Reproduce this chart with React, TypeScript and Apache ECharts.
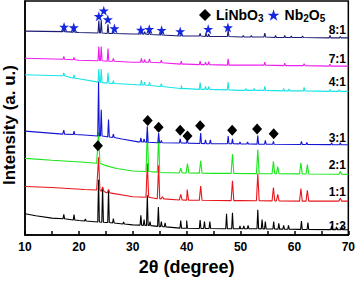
import React, { useEffect, useRef } from "react";
import * as echarts from "echarts";

const FONT = "'Liberation Sans', Arial, sans-serif";

// x axis range and ticks (2θ in degrees)
const xMin = 10;
const xMax = 70;
const xTickStep = 5;

// sample ratio labels, bottom to top
const ratioLabels = ["1:3", "1:1", "2:1", "3:1", "4:1", "7:1", "8:1"];
const traceColors = ["#000000", "#e8161b", "#1be61b", "#1414d4", "#19e4e4", "#ee1eee", "#1c1c72"];

// baselines [2θ, intensity] and peaks [2θ, base, top] (intensity in a.u., offset per trace)
const base13 = [[10, 22], [12, 20], [15, 17.5], [20, 15], [25, 13], [30, 10.5], [35, 8.5], [40, 7], [50, 6.5], [70, 5.5]];
const peaks13 = [
  [17.2, 16.8, 21.3], [19.1, 15.5, 21], [21.2, 14.5, 16.5], [23.65, 13.5, 57], [24.4, 13.3, 48.7],
  [25.5, 13, 46], [26.4, 12.5, 17], [28.3, 11.5, 13.5], [31.5, 10.3, 20.3], [32.1, 10, 16],
  [32.7, 10, 41], [33.2, 9.8, 14], [34.75, 9, 29], [35.3, 8.8, 14], [36.0, 8.5, 12.5],
  [38.9, 7.2, 15], [40.0, 7, 15], [42.5, 6.8, 15.5], [43.3, 6.8, 14], [44.3, 6.8, 14],
  [47.4, 6.6, 22], [48.5, 6.6, 23], [49.9, 6.5, 9.5], [50.6, 6.5, 9.5], [51.4, 6.5, 10],
  [53.2, 6.5, 26], [54.0, 6.4, 16], [54.6, 6.4, 14], [56.15, 6.3, 14], [57.1, 6.2, 12],
  [58.0, 6.1, 10], [58.9, 6, 10], [61.3, 5.9, 14.5], [62.5, 5.8, 13], [66.9, 5.6, 9.5],
  [67.8, 5.6, 8.5], [68.8, 5.5, 9.5],
];

const base11 = [[10, 50], [15, 49], [21, 47], [23.3, 46.5], [25, 44], [30, 39.5], [35, 37.5], [40, 36], [50, 35.5], [70, 35]];
const peaks11 = [
  [23.65, 46.5, 80], [24.4, 45, 49.5], [25.5, 43.5, 47], [32.7, 39, 74], [34.8, 37.5, 72],
  [35.5, 37.3, 39.5], [38.9, 36.2, 42], [40.1, 36, 47], [42.6, 35.8, 50.5], [48.5, 35.5, 56],
  [53.2, 35.3, 63.5], [56.1, 35.2, 49], [56.9, 35.1, 42], [61.2, 35, 48], [62.4, 35, 46],
  [68.5, 35, 38],
];

const base21 = [[10, 79], [15, 77], [21, 75], [23.3, 74], [25, 71.5], [27, 68.5], [30, 66], [35, 64.5], [45, 63.5], [70, 62.5]];
const peaks21 = [
  [23.65, 74, 106], [32.7, 65.5, 106], [34.8, 64.8, 102], [38.9, 64, 69], [40.15, 64, 73.5],
  [42.6, 63.8, 76.5], [48.5, 63.5, 83.5], [53.2, 63.3, 88], [56.1, 63.2, 76], [56.9, 63.1, 70.5],
  [61.2, 63, 74.5], [62.4, 62.9, 72.5], [68.5, 62.6, 65.5],
];

const base31 = [[10, 107], [17, 104], [21, 103], [25, 101.5], [28, 99], [31, 96], [35, 95], [45, 94], [70, 93]];
const peaks31 = [
  [17.2, 104, 108], [19.1, 103.5, 107], [23.65, 102, 158], [24.15, 102, 129], [25.5, 101, 119],
  [26.4, 100.5, 104], [31.5, 96, 100], [32.1, 95.8, 99], [32.7, 95.6, 112], [34.8, 95, 105],
  [35.3, 95, 97.5], [38.8, 94.8, 99], [40.1, 94.7, 98], [42.6, 94.3, 105], [43.5, 94.2, 98],
  [44.4, 94.1, 98], [47.7, 94, 102], [48.5, 94, 99], [49.9, 93.9, 96], [51.3, 93.8, 96],
  [53.2, 93.7, 102.5], [54.6, 93.6, 97.5], [56.1, 93.5, 96.5], [61.3, 93.3, 96.5], [62.3, 93.3, 95.5],
  [66.9, 93.1, 95], [68.5, 93, 95],
];

const base41 = [[10, 165], [16.5, 164], [20, 161], [24, 157], [30, 155], [39, 150.5], [50, 149], [60, 148.5], [70, 148]];
const peaks41 = [
  [17.2, 164, 167], [19.1, 161.5, 165], [23.7, 157.5, 171], [24.15, 157, 171], [25.4, 156.5, 167],
  [26.4, 156, 159], [31.6, 154.5, 159.5], [32.2, 154.5, 157.5], [33.1, 154, 157.5], [35.3, 153, 156],
  [39.0, 151, 154], [42.5, 150, 157], [43.5, 150, 153], [44.1, 150, 153], [47.7, 149.5, 157.5],
  [51.0, 149, 151], [52.5, 149, 151], [54.5, 149, 153], [58.0, 148.5, 151], [59.0, 148.5, 150.5],
  [61.8, 148.5, 152], [66.6, 148, 150], [68.3, 148, 149.5],
];

const base71 = [[10, 182], [20, 180], [30, 178], [40, 176], [50, 175], [60, 174.5], [70, 174]];
const peaks71 = [
  [17.2, 181, 184], [19.1, 180.5, 183], [23.7, 179.5, 194], [24.15, 179.5, 194], [25.4, 179, 192],
  [26.4, 179, 182], [31.6, 178, 182], [32.2, 178, 181], [33.1, 178, 181.5], [35.3, 177.5, 180],
  [39.0, 176, 179], [42.5, 175.5, 179], [43.5, 175.5, 178], [44.1, 175.5, 178.5], [47.7, 175, 181.5],
  [54.5, 175, 178], [58.2, 174.5, 177], [61.8, 174.5, 176.5], [66.6, 174, 176],
];

const base81 = [[10, 210], [20, 208.5], [30, 207], [40, 205], [50, 204], [60, 203.5], [70, 203]];
const peaks81 = [
  [17.2, 209.5, 213], [19.1, 209, 212], [23.7, 208, 221], [24.15, 208, 221], [25.4, 207.5, 217],
  [26.4, 207.5, 211], [31.6, 207, 210], [32.2, 207, 209.5], [33.1, 206.5, 210.5], [35.3, 206, 209.5],
  [39.0, 205, 208], [42.5, 205, 207.5], [43.6, 204.5, 208], [44.1, 204.5, 207], [47.7, 204.5, 211],
  [50.5, 204, 205.5], [52.0, 204, 205.5], [54.5, 204, 208], [56.5, 203.5, 205.5], [58.2, 203.5, 205.5],
  [59.4, 203.5, 205], [61.5, 203.5, 205], [66.6, 203, 205.5], [68.5, 203, 204.5],
];

// phase markers [2θ, intensity]
const liNbO3Marks = [[23.53, 92], [32.77, 118], [34.8, 111], [38.8, 108], [40.15, 102], [42.5, 112.7], [48.45, 108], [53.07, 109.3], [56.15, 104.3]];
const nb2O5Marks = [[17.25, 214.3], [19.05, 213.7], [23.7, 225.3], [24.62, 231], [25.37, 222], [26.6, 212.7], [31.5, 211.3], [33.07, 212], [35.35, 211], [38.8, 209.7], [44.0, 212], [47.66, 213.7]];

const traces = [
  { base: base13, peaks: peaks13, hw: 0.15 },
  { base: base11, peaks: peaks11, hw: 0.25 },
  { base: base21, peaks: peaks21, hw: 0.25 },
  { base: base31, peaks: peaks31, hw: 0.15 },
  { base: base41, peaks: peaks41, hw: 0.15 },
  { base: base71, peaks: peaks71, hw: 0.15 },
  { base: base81, peaks: peaks81, hw: 0.15 },
];
// label vertical positions (px) for ratio texts
const labelY = [226, 192, 165, 138, 82, 59, 30];

const STAR = "path://M50,0 L61.8,35.1 L98.9,35.1 L68.8,56.7 L80.3,91.9 L50,70.2 L19.7,91.9 L31.2,56.7 L1.1,35.1 L38.2,35.1 Z";

function buildLine(base: number[][], peaks: number[][], hw: number) {
  const pts: number[][] = base.map((p) => [p[0], p[1]]);
  peaks.forEach(([x, b, t]) => {
    pts.push([x - hw, b], [x, t], [x + hw, b]);
  });
  pts.sort((a, b) => a[0] - b[0]);
  return pts;
}

export default function App() {
  const ref = useRef<HTMLDivElement>(null);
  useEffect(() => {
    if (!ref.current) return;
    const chart = echarts.init(ref.current, null, { renderer: "svg" });
    const lineSeries = traces.map((t, i) => ({
      type: "line",
      name: ratioLabels[i],
      data: buildLine(t.base, t.peaks, t.hw),
      showSymbol: false,
      symbol: "none",
      lineStyle: { color: traceColors[i], width: 1.1 },
      z: 2 + i,
      silent: true,
    }));
    chart.setOption({
      animation: false,
      backgroundColor: "#fff",
      grid: { left: 25, right: 7, top: 1, bottom: 39, show: true, borderColor: "#000", borderWidth: 1.5, backgroundColor: "transparent" },
      legend: {
        data: ["LiNbO3", "Nb2O5"],
        left: 194,
        top: 3,
        itemWidth: 12,
        itemHeight: 12,
        itemGap: 4,
        itemTextGap: 8,
        selectedMode: false,
        formatter: (n: string) => (n === "LiNbO3" ? "LiNbO{s|3}" : "Nb{s|2}O{s|5}"),
        textStyle: {
          fontSize: 14,
          fontWeight: "bold",
          color: "#000",
          fontFamily: FONT,
          rich: { s: { fontSize: 10, fontWeight: "bold", color: "#000", fontFamily: FONT, padding: [7, 0, 0, 0] } },
        },
      },
      xAxis: {
        type: "value",
        min: xMin,
        max: xMax,
        interval: xTickStep,
        name: "2θ (degree)",
        nameLocation: "middle",
        nameGap: 19,
        nameTextStyle: { fontSize: 18, fontWeight: "bold", color: "#000", fontFamily: FONT },
        axisLine: { lineStyle: { color: "#000", width: 1.5 } },
        axisTick: { inside: true, length: 4, lineStyle: { color: "#000", width: 1.5 } },
        axisLabel: {
          margin: 6,
          fontSize: 12,
          fontWeight: "bold",
          color: "#000",
          fontFamily: FONT,
          showMinLabel: true,
          showMaxLabel: true,
          formatter: (v: number) => (v % 10 === 0 ? String(v) : ""),
        },
        splitLine: { show: false },
      },
      yAxis: {
        type: "value",
        min: 0,
        max: 241,
        axisLine: { show: true, lineStyle: { color: "#000", width: 1.5 } },
        axisTick: { show: false },
        axisLabel: { show: false },
        splitLine: { show: false },
      },
      graphic: [
        {
          type: "text",
          x: 9,
          y: 125,
          rotation: Math.PI / 2,
          style: { text: "Intensity (a. u.)", fontSize: 17, fontWeight: "bold", fill: "#000", fontFamily: FONT, align: "center", verticalAlign: "middle" },
        },
        ...ratioLabels.map((t, i) => ({
          type: "text",
          x: 346,
          y: labelY[i],
          style: { text: t, fontSize: 12, fontWeight: "bold", fill: "#000", fontFamily: FONT, align: "right", verticalAlign: "middle" },
        })),
      ],
      series: [
        ...lineSeries,
        {
          type: "scatter",
          name: "LiNbO3",
          data: liNbO3Marks,
          symbol: "diamond",
          symbolSize: [10, 11],
          itemStyle: { color: "#000", opacity: 1 },
          z: 20,
          silent: true,
        },
        {
          type: "scatter",
          name: "Nb2O5",
          data: nb2O5Marks,
          symbol: STAR,
          symbolSize: [10, 10],
          itemStyle: { color: "#1426e0", opacity: 1 },
          z: 20,
          silent: true,
        },
      ],
    });
    return () => chart.dispose();
  }, []);
  return <div ref={ref} style={{ position: "fixed", left: 0, top: 0, width: 358, height: 281 }} />;
}
